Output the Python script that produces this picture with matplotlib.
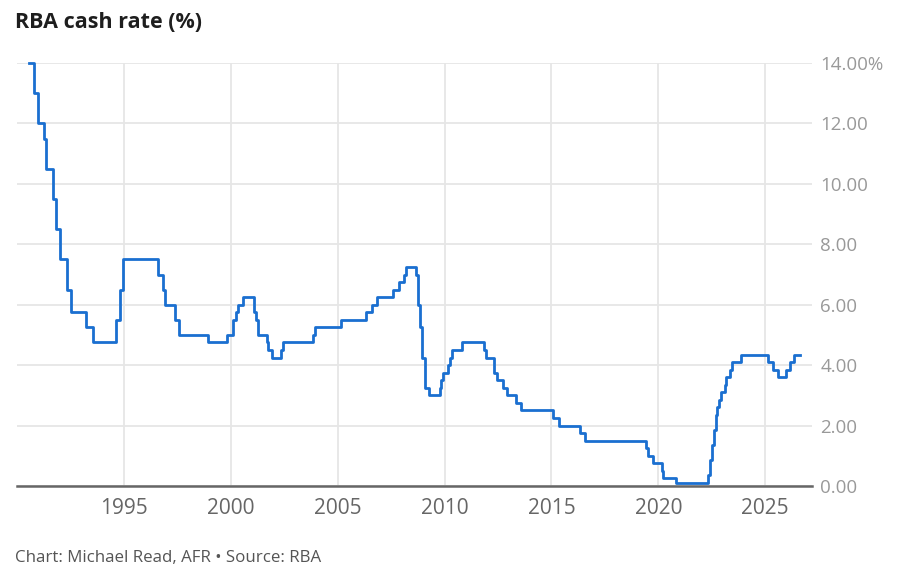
import pandas as pd
import matplotlib
matplotlib.use("Agg")
import matplotlib.pyplot as plt
import matplotlib.dates as mdates

plt.rcParams['font.family'] = ['Open Sans', 'DejaVu Sans']

# RBA cash rate target: change dates and new rate (%)
dates = [
    "1990-08-02", "1990-10-15", "1990-12-18", "1991-04-04", "1991-05-16",
    "1991-09-03", "1991-11-06", "1992-01-08", "1992-05-06", "1992-07-08",
    "1993-03-23", "1993-07-30", "1994-08-17", "1994-10-24", "1994-12-14",
    "1996-07-31", "1996-11-06", "1996-12-11", "1997-05-23", "1997-07-30",
    "1998-12-02", "1999-11-03", "2000-02-02", "2000-04-05", "2000-05-03",
    "2000-08-02", "2001-02-07", "2001-03-07", "2001-04-04", "2001-09-05",
    "2001-10-03", "2001-12-05", "2002-05-08", "2002-06-05", "2003-11-05",
    "2003-12-03", "2005-03-02", "2006-05-03", "2006-08-02", "2006-11-08",
    "2007-08-08", "2007-11-07", "2008-02-06", "2008-03-05", "2008-09-03",
    "2008-10-08", "2008-11-05", "2008-12-03", "2009-02-04", "2009-04-08",
    "2009-10-07", "2009-11-04", "2009-12-02", "2010-03-03", "2010-04-07",
    "2010-05-05", "2010-11-03", "2011-11-02", "2011-12-07", "2012-05-02",
    "2012-06-06", "2012-10-03", "2012-12-05", "2013-05-08", "2013-08-07",
    "2015-02-04", "2015-05-06", "2016-05-04", "2016-08-03", "2019-06-05",
    "2019-07-03", "2019-10-02", "2020-03-04", "2020-03-20", "2020-11-04",
    "2022-05-04", "2022-06-08", "2022-07-06", "2022-08-03", "2022-09-07",
    "2022-10-05", "2022-11-02", "2022-12-07", "2023-02-08", "2023-03-08",
    "2023-05-03", "2023-06-07", "2023-11-08", "2025-02-19", "2025-05-21",
    "2025-08-13", "2025-12-20", "2026-02-28", "2026-05-05", "2026-08-25",
]
rates = [
    14.00, 13.00, 12.00, 11.50, 10.50,
    9.50, 8.50, 7.50, 6.50, 5.75,
    5.25, 4.75, 5.50, 6.50, 7.50,
    7.00, 6.50, 6.00, 5.50, 5.00,
    4.75, 5.00, 5.50, 5.75, 6.00,
    6.25, 5.75, 5.50, 5.00, 4.75,
    4.50, 4.25, 4.50, 4.75, 5.00,
    5.25, 5.50, 5.75, 6.00, 6.25,
    6.50, 6.75, 7.00, 7.25, 7.00,
    6.00, 5.25, 4.25, 3.25, 3.00,
    3.25, 3.50, 3.75, 4.00, 4.25,
    4.50, 4.75, 4.50, 4.25, 3.75,
    3.50, 3.25, 3.00, 2.75, 2.50,
    2.25, 2.00, 1.75, 1.50, 1.25,
    1.00, 0.75, 0.50, 0.25, 0.10,
    0.35, 0.85, 1.35, 1.85, 2.35,
    2.60, 2.85, 3.10, 3.35, 3.60,
    3.85, 4.10, 4.35, 4.10, 3.85,
    3.60, 3.85, 4.10, 4.35, 4.35,
]

years = [1995, 2000, 2005, 2010, 2015, 2020, 2025]
yticks = [0, 2, 4, 6, 8, 10, 12, 14]
ylabels = ["0.00", "2.00", "4.00", "6.00", "8.00", "10.00", "12.00", "14.00%"]

x = pd.to_datetime(dates)

fig = plt.figure(figsize=(9.02, 5.71), dpi=100)
ax = fig.add_axes([17 / 902, 1 - 486 / 571, (812 - 17) / 902, (486 - 63) / 571])

ax.step(x, rates, where="post", color="#1a6fd0", linewidth=2.0, clip_on=False,
        zorder=3)

ax.set_xlim(pd.Timestamp("1990-01-01"), pd.Timestamp("2027-03-10"))
ax.set_ylim(0, 14)

ax.set_xticks([pd.Timestamp(f"{y}-01-01") for y in years])
ax.xaxis.set_major_formatter(mdates.DateFormatter("%Y"))
ax.set_yticks(yticks)
ax.set_yticklabels(ylabels)

ax.yaxis.tick_right()
ax.tick_params(axis="y", length=0, pad=6, labelsize=13.5, labelcolor="#999999")
ax.tick_params(axis="x", length=0, pad=9, labelsize=15, labelcolor="#666666")

ax.grid(True, color="#e6e6e6", linewidth=1.3, zorder=0)
ax.set_axisbelow(True)
for side in ["top", "left", "right"]:
    ax.spines[side].set_visible(False)
ax.spines["bottom"].set_color("#666666")
ax.spines["bottom"].set_linewidth(1.8)

fig.text(15 / 902, 1 - 22 / 571, "RBA cash rate (%)", fontsize=15.5,
         fontweight="bold", color="#1e1e1e", va="center", ha="left")
fig.text(15 / 902, 1 - 558 / 571, "Chart: Michael Read, AFR \u2022 Source: RBA",
         fontsize=12.2, color="#555555", va="center", ha="left")

fig.savefig("out.png", dpi=100, facecolor="white")
